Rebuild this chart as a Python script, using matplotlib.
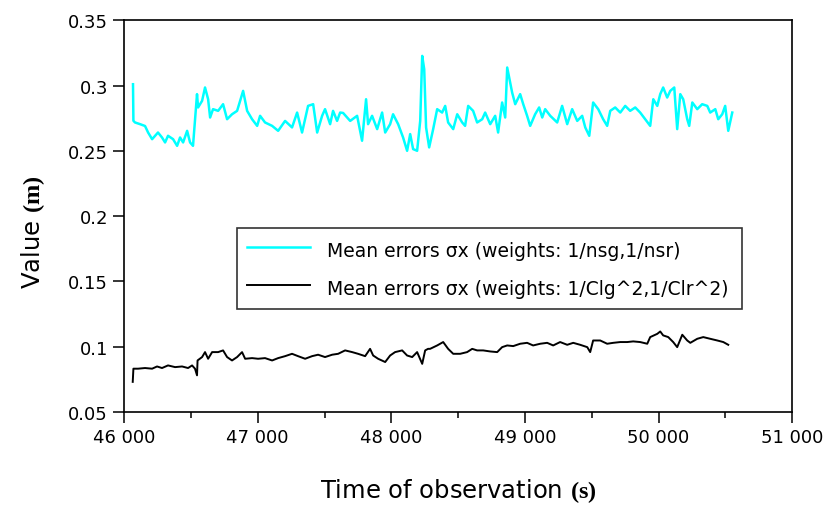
###############################################################
# Imports
###############################################################
import matplotlib
matplotlib.use("Agg")
import matplotlib.pyplot as plt
from matplotlib.ticker import FuncFormatter, MultipleLocator

###############################################################
# Data
###############################################################

# Mean errors sigma x, weights 1/nsg,1/nsr (cyan)
time_nsg = [46067, 46070, 46082, 46120, 46157, 46180, 46210, 46254, 46284, 46307,
            46329, 46367, 46397, 46419, 46442, 46472, 46494, 46516, 46546, 46554,
            46584, 46606, 46629, 46644, 46666, 46704, 46741, 46771, 46808, 46846,
            46891, 46921, 46958, 46996, 47018, 47055, 47108, 47153, 47205, 47257,
            47295, 47332, 47377, 47415, 47445, 47482, 47504, 47542, 47564, 47594,
            47617, 47639, 47692, 47744, 47781, 47811, 47826, 47856, 47894, 47931,
            47954, 47991, 48013, 48051, 48088, 48118, 48141, 48163, 48193, 48216,
            48231, 48246, 48260, 48283, 48313, 48343, 48380, 48403, 48425, 48463,
            48493, 48530, 48552, 48575, 48612, 48642, 48680, 48702, 48740, 48777,
            48799, 48829, 48852, 48867, 48882, 48904, 48927, 48964, 48987, 49016,
            49039, 49076, 49106, 49129, 49151, 49189, 49241, 49278, 49316, 49353,
            49391, 49428, 49451, 49481, 49510, 49548, 49585, 49615, 49638, 49675,
            49713, 49750, 49787, 49825, 49862, 49900, 49937, 49960, 49990, 50012,
            50034, 50064, 50087, 50117, 50139, 50162, 50184, 50214, 50229, 50252,
            50289, 50326, 50364, 50386, 50424, 50446, 50476, 50498, 50521, 50551]
error_nsg = [0.301, 0.273, 0.2717, 0.2704, 0.269, 0.264, 0.2589, 0.264, 0.2602, 0.2564,
             0.2615, 0.2589, 0.2538, 0.2602, 0.2564, 0.2653, 0.2564, 0.2538, 0.2934, 0.2832,
             0.2883, 0.2985, 0.2895, 0.2755, 0.2819, 0.2806, 0.2857, 0.2742, 0.278, 0.2806,
             0.2959, 0.2806, 0.2742, 0.2691, 0.2768, 0.2717, 0.2691, 0.2653, 0.2729, 0.2679,
             0.2793, 0.264, 0.2844, 0.2857, 0.264, 0.2768, 0.2819, 0.2704, 0.2806, 0.2729,
             0.2793, 0.279, 0.2729, 0.2768, 0.2577, 0.2895, 0.2704, 0.2768, 0.2666, 0.2793,
             0.264, 0.2704, 0.278, 0.2704, 0.2602, 0.25, 0.2628, 0.2513, 0.25, 0.2729,
             0.3227, 0.3125, 0.2679, 0.2526, 0.2666, 0.2819, 0.2793, 0.2844, 0.2717, 0.2666,
             0.278, 0.2717, 0.2691, 0.2844, 0.2806, 0.2717, 0.2742, 0.2793, 0.2704, 0.2768,
             0.264, 0.287, 0.2755, 0.3138, 0.3061, 0.2946, 0.2857, 0.2934, 0.2857, 0.2768,
             0.2691, 0.278, 0.2832, 0.2755, 0.2819, 0.2768, 0.2717, 0.2844, 0.2704, 0.2819,
             0.2729, 0.2768, 0.2679, 0.2615, 0.287, 0.2819, 0.2742, 0.2691, 0.2806, 0.2832,
             0.2793, 0.2844, 0.2806, 0.2832, 0.2793, 0.2742, 0.2691, 0.2895, 0.2844, 0.2934,
             0.2985, 0.2908, 0.2959, 0.2985, 0.2666, 0.2934, 0.2895, 0.2742, 0.2691, 0.287,
             0.2819, 0.2857, 0.2844, 0.2793, 0.2819, 0.2742, 0.278, 0.2844, 0.2653, 0.2793]

# Mean errors sigma x, weights 1/Clg^2,1/Clr^2 (black)
time_cl = [46065, 46070, 46105, 46157, 46210, 46247, 46284, 46329, 46382, 46434,
           46479, 46509, 46531, 46546, 46550, 46584, 46606, 46629, 46659, 46704,
           46741, 46771, 46808, 46846, 46883, 46906, 46958, 47003, 47055, 47108,
           47153, 47205, 47257, 47302, 47355, 47407, 47452, 47504, 47557, 47602,
           47654, 47707, 47751, 47804, 47841, 47864, 47901, 47954, 47991, 48028,
           48081, 48118, 48156, 48193, 48231, 48253, 48275, 48290, 48343, 48388,
           48425, 48463, 48515, 48567, 48605, 48642, 48687, 48740, 48792, 48829,
           48867, 48912, 48964, 49016, 49061, 49114, 49166, 49211, 49263, 49316,
           49361, 49413, 49466, 49488, 49510, 49563, 49615, 49660, 49713, 49765,
           49810, 49862, 49915, 49937, 49990, 50012, 50034, 50072, 50109, 50139,
           50177, 50214, 50237, 50289, 50334, 50386, 50439, 50484, 50521]
error_cl = [0.073, 0.0831, 0.0831, 0.0836, 0.0831, 0.0848, 0.0836, 0.0856, 0.0843, 0.0848,
            0.0836, 0.0856, 0.0831, 0.078, 0.0894, 0.092, 0.0958, 0.0907, 0.0958, 0.0958,
            0.0971, 0.092, 0.0894, 0.092, 0.0958, 0.0907, 0.0912, 0.0907, 0.0912, 0.0894,
            0.0912, 0.0927, 0.0945, 0.0927, 0.0907, 0.0927, 0.0938, 0.092, 0.0938, 0.0945,
            0.0971, 0.0958, 0.0945, 0.0927, 0.0983, 0.0932, 0.0907, 0.0882, 0.0932, 0.0958,
            0.0971, 0.0932, 0.092, 0.0958, 0.0868, 0.0971, 0.0983, 0.0983, 0.1009, 0.1035,
            0.0983, 0.0945, 0.0945, 0.0958, 0.0983, 0.0971, 0.0971, 0.0963, 0.0958, 0.0996,
            0.1009, 0.1004, 0.1022, 0.1029, 0.1009, 0.1022, 0.1029, 0.1009, 0.1035, 0.1014,
            0.1029, 0.1014, 0.0996, 0.0958, 0.1047, 0.1047, 0.1022, 0.1029, 0.1035, 0.1035,
            0.104, 0.1035, 0.1022, 0.1073, 0.1098, 0.1116, 0.1086, 0.1073, 0.1035, 0.0996,
            0.1091, 0.1047, 0.1029, 0.106, 0.1073, 0.106, 0.1047, 0.1035, 0.1014]

label_nsg = 'Mean errors σx (weights: 1/nsg,1/nsr)'
label_cl = 'Mean errors σx (weights: 1/Clg^2,1/Clr^2)'

###############################################################
# Plot
###############################################################
plt.rcParams['font.family'] = 'DejaVu Sans'
plt.rcParams['mathtext.fontset'] = 'custom'
plt.rcParams['mathtext.rm'] = 'Liberation Serif'
plt.rcParams['mathtext.bf'] = 'Liberation Serif:bold'

fig = plt.figure(figsize=(8.27, 5.06), dpi=100)
ax = fig.add_axes([0.150, 0.184, 0.808, 0.774])

ax.plot(time_nsg, error_nsg, color='#00ffff', lw=1.8, label=label_nsg)
ax.plot(time_cl, error_cl, color='black', lw=1.4, label=label_cl)

ax.set_xlim(46000, 51000)
ax.set_ylim(0.05, 0.35)
ax.xaxis.set_major_locator(MultipleLocator(1000))
ax.xaxis.set_minor_locator(MultipleLocator(500))
ax.yaxis.set_major_locator(MultipleLocator(0.05))
ax.xaxis.set_major_formatter(FuncFormatter(lambda v, p: f'{int(v):,}'.replace(',', ' ')))
ax.yaxis.set_major_formatter(FuncFormatter(lambda v, p: f'{v:g}'))

ax.tick_params(axis='both', which='major', direction='out', length=8, width=1.1,
               labelsize=13, colors='black')
ax.tick_params(axis='x', which='minor', direction='out', length=4, width=1.1)
for spine in ax.spines.values():
    spine.set_linewidth(1.2)

ax.set_xlabel(r'Time of observation $\mathbf{(s)}$', fontsize=17.5, labelpad=22)
ax.set_ylabel(r'Value $\mathbf{(m)}$', fontsize=17.5)
ax.yaxis.set_label_coords(-0.115, 0.46)

leg = ax.legend(loc='upper left', bbox_to_anchor=(0.169, 0.265, 0.756, 0.204),
                mode='expand', borderaxespad=0,
                fontsize=13.5, frameon=True, fancybox=False, edgecolor='black',
                handlelength=3.35, handletextpad=0.9, handleheight=1.45,
                borderpad=0.55, labelspacing=0.85)
leg.get_frame().set_linewidth(1.2)

plt.savefig('out.png', dpi=100)
